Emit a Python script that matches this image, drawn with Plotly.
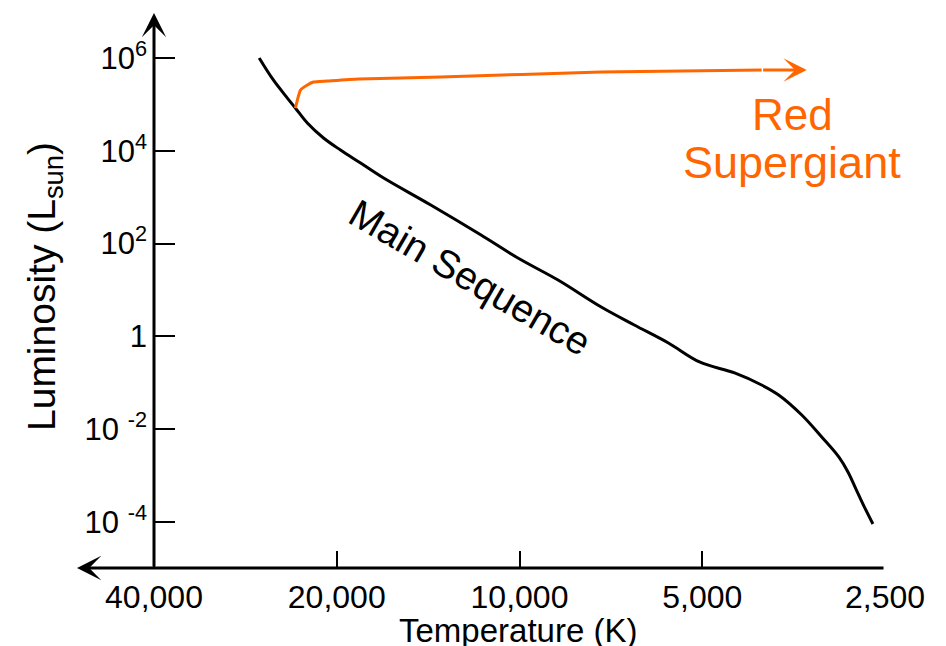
import numpy as np
import plotly.graph_objects as go

# ---- data ----
ms_temp = [26840, 25440, 24120, 23400, 22360, 21030, 19720, 18270, 16740, 14000,
           11570, 10060, 8640, 7335, 6470, 5685, 5052, 4423, 3992, 3742,
           3428, 3178, 2979, 2877, 2791, 2708, 2617]
ms_lum = [1.0e6, 3.36e5, 1.37e5, 8.36e4, 3.97e4, 1.89e4, 1.04e4, 5.46e3, 2.59e3, 679,
          153, 48.9, 16.4, 4.30, 1.76, 0.721, 0.281, 0.163, 0.0897, 0.0546,
          0.0202, 6.79e-3, 2.52e-3, 1.20e-3, 5.14e-4, 2.21e-4, 9.06e-5]

rsg_temp = [23400, 23220, 22950, 22360, 21850, 20720, 18410, 13480, 7335, 3992, 3364]
rsg_lum = [8.36e4, 1.24e5, 2.04e5, 2.62e5, 3.04e5, 3.19e5, 3.53e5, 3.90e5, 4.99e5, 5.51e5, 5.51e5]

x_tickvals = [40000, 20000, 10000, 5000, 2500]
x_ticktext = ["40,000", "20,000", "10,000", "5,000", "2,500"]
y_tickvals = [1e6, 1e4, 1e2, 1, 1e-2, 1e-4]
y_ticktext = ["10<sup>6</sup>", "10<sup>4</sup>", "10<sup>2</sup>", "1",
              "10 <sup>-2</sup>", "10 <sup>-4</sup>"]

FONT = "Liberation Sans, Arial, sans-serif"
ORANGE = "#FF6600"

W, H = 946, 646
ML, MR, MT, MB = 77, 61, 13, 78
pw = W - ML - MR
ph = H - MT - MB

x_range = [4.7289, np.log10(2500)]
y_range = [-4.991, 6.970]
yaxis_pos = (np.log10(40000) - x_range[0]) / (x_range[1] - x_range[0])

fig = go.Figure()
fig.add_trace(go.Scatter(x=ms_temp, y=ms_lum, mode="lines",
                         line=dict(color="black", width=3, shape="spline", smoothing=1.0),
                         hoverinfo="skip"))
fig.add_trace(go.Scatter(x=rsg_temp[:-1], y=rsg_lum[:-1], mode="lines",
                         line=dict(color=ORANGE, width=3, shape="spline", smoothing=0.5),
                         hoverinfo="skip"))

def px_to_paper_x(px):
    return (px - ML) / pw

def px_to_paper_y(py):
    return (H - MB - py) / ph

annotations = [
    # y-axis line with arrow
    dict(x=yaxis_pos, y=1, xref="paper", yref="paper", ax=0, ay=ph,
         axref="pixel", ayref="pixel", showarrow=True, arrowhead=3, arrowsize=1.35,
         arrowwidth=3, arrowcolor="black", text=""),
    # x-axis line with arrow (pointing left)
    dict(x=0, y=0, xref="paper", yref="paper", ax=pw, ay=0,
         axref="pixel", ayref="pixel", showarrow=True, arrowhead=3, arrowsize=1.35,
         arrowwidth=3, arrowcolor="black", text=""),
    # orange arrow head
    dict(x=np.log10(rsg_temp[-1]), y=np.log10(rsg_lum[-1]), xref="x", yref="y",
         ax=np.log10(rsg_temp[-2]), ay=np.log10(rsg_lum[-2]), axref="x", ayref="y",
         showarrow=True, arrowhead=3, arrowsize=1.3, arrowwidth=3, arrowcolor=ORANGE, text=""),
    dict(x=px_to_paper_x(792), y=px_to_paper_y(114), xref="paper", yref="paper",
         text="Red", showarrow=False, font=dict(family=FONT, size=44, color=ORANGE),
         xanchor="center", yanchor="middle"),
    dict(x=px_to_paper_x(792), y=px_to_paper_y(162), xref="paper", yref="paper",
         text="Supergiant", showarrow=False, font=dict(family=FONT, size=45, color=ORANGE),
         xanchor="center", yanchor="middle"),
    dict(x=px_to_paper_x(470), y=px_to_paper_y(277), xref="paper", yref="paper",
         text="Main Sequence", showarrow=False, textangle=30,
         font=dict(family=FONT, size=39, color="black"),
         xanchor="center", yanchor="middle"),
    dict(x=px_to_paper_x(518), y=px_to_paper_y(630), xref="paper", yref="paper",
         text="Temperature (K)", showarrow=False,
         font=dict(family=FONT, size=33, color="black"),
         xanchor="center", yanchor="middle"),
    dict(x=px_to_paper_x(44), y=px_to_paper_y(287), xref="paper", yref="paper",
         text="Luminosity (L<sub>sun</sub>)", showarrow=False, textangle=-90,
         font=dict(family=FONT, size=39, color="black"),
         xanchor="center", yanchor="middle"),
]

fig.update_layout(
    width=W, height=H,
    margin=dict(l=ML, r=MR, t=MT, b=MB, pad=0),
    paper_bgcolor="white", plot_bgcolor="white",
    showlegend=False,
    xaxis=dict(type="log", range=x_range, tickvals=x_tickvals, ticktext=x_ticktext,
               ticks="inside", ticklen=17, tickwidth=2, tickcolor="black",
               showline=False, showgrid=False, zeroline=False, ticklabelstandoff=7,
               tickfont=dict(family=FONT, size=32, color="black")),
    yaxis=dict(type="log", range=y_range, tickvals=y_tickvals, ticktext=y_ticktext,
               ticks="inside", ticklen=20, tickwidth=2, tickcolor="black",
               showline=False, showgrid=False, zeroline=False, ticklabelstandoff=7,
               anchor="free", position=yaxis_pos, side="left",
               tickfont=dict(family=FONT, size=31, color="black")),
    annotations=annotations,
)

fig.write_html("out.html")
